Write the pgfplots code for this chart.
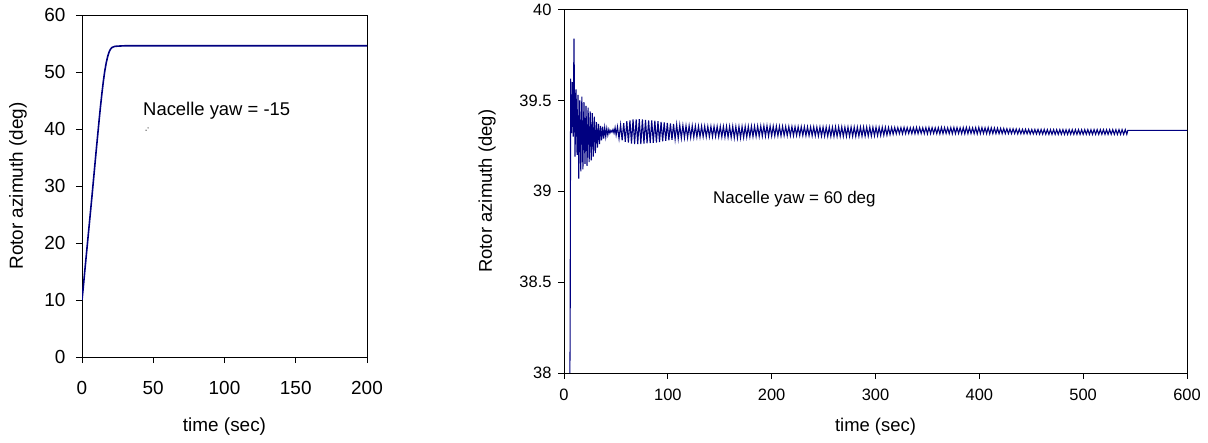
\documentclass[border=0pt]{standalone}
\usepackage{fontspec}
\setmainfont{Liberation Sans}
\usepackage{pgfplots}
\pgfplotsset{compat=1.18}
\definecolor{navy}{RGB}{0,0,128}
\begin{document}
\begin{tikzpicture}
\path[use as bounding box] (0,0) rectangle (1208bp,443bp);
\begin{axis}[
  at={(82bp,86bp)}, anchor=south west, scale only axis,
  width=285bp, height=342bp,
  xmin=0, xmax=200, ymin=0, ymax=60,
  xtick={0,50,...,200}, ytick={0,10,...,60},
  tick pos=left, tick align=outside, major tick length=6bp,
  tick style={black, line width=0.8pt},
  axis line style={line width=1pt},
  /pgf/number format/assume math mode=true,
  ticklabel style={font=\fontsize{19}{19}\selectfont},
  xticklabel style={yshift=-15bp},
  yticklabel style={xshift=-7bp},
  xlabel={time (sec)}, ylabel={Rotor azimuth (deg)},
  label style={font=\fontsize{19}{19}\selectfont},
  xlabel style={at={(rel axis cs:0.5,-0.2047)}, anchor=center},
  ylabel style={at={(rel axis cs:-0.2246,0.5)}, anchor=center},
]
\addplot[navy, line width=1.6pt] coordinates {
(0,10)(1,12.5)(2,15.2)(3,17.8)(4,20.4)(5,23)(6,25.6)(7,28.2)(8,30.9)(9,33.6)(10,36.3)(11,38.9)(12,41.5)(13,44)(14,46.3)(15,48.4)(16,50.2)(17,51.6)(18,52.7)(19,53.5)(20,54)(21,54.3)(23,54.5)(26,54.55)(30,54.6)(200,54.6)
};
\end{axis}
\node[anchor=base west, inner sep=0pt, font=\fontsize{18.5}{18.5}\selectfont] at (143bp,327bp) {Nacelle yaw = -15};
\node[anchor=center, inner sep=0pt, font=\fontsize{7}{7}\selectfont] at (147bp,313bp) {-'};
\begin{axis}[
  at={(564bp,70bp)}, anchor=south west, scale only axis,
  width=623bp, height=363.5bp,
  xmin=0, xmax=600, ymin=38, ymax=40,
  xtick={0,100,...,600}, ytick={38,38.5,39,39.5,40},
  tick pos=left, tick align=outside, major tick length=6bp,
  tick style={black, line width=0.8pt},
  axis line style={line width=1pt},
  /pgf/number format/assume math mode=true,
  ticklabel style={font=\fontsize{16.5}{16.5}\selectfont},
  xticklabel style={yshift=-7bp},
  yticklabel style={xshift=-3bp},
  xlabel={time (sec)}, ylabel={Rotor azimuth (deg)},
  label style={font=\fontsize{18.5}{18.5}\selectfont},
  xlabel style={at={(rel axis cs:0.5,-0.1486)}, anchor=center},
  ylabel style={at={(rel axis cs:-0.1236,0.5)}, anchor=center},
]
\addplot[navy, line width=1.1pt] coordinates {
(4.8,37.4)(5.6,38.0)(5.9,38.16)(6.4,39.62)(7.3,39.32)(8.2,39.60)(8.9,39.30)(9.6,39.84)(10.6,39.19)(11.6,39.56)(12.6,39.20)(13.5,39.53)(14.2,39.07)(15.2,39.50)(16.2,39.11)(17.2,39.52)(18.2,39.12)(19.2,39.49)(20.2,39.15)(21.2,39.47)(22.2,39.14)(23.2,39.46)(24.2,39.16)(25.2,39.44)(26.2,39.17)(27.2,39.43)(28.2,39.19)(29.2,39.41)(30.2,39.21)(31.2,39.38)(32.2,39.24)(33.2,39.37)(34.2,39.26)(35.2,39.36)(36.2,39.28)(37.2,39.355)(38.2,39.29)(39.2,39.35)(40.2,39.30)(41.2,39.345)(42.2,39.31)(43.2,39.34)(44.2,39.32)(45.2,39.335)(46.2,39.325)(47.2,39.34)(48.2,39.32)(49.2,39.35)(50.2,39.31)
(51.5,39.355)(53,39.29)(54.5,39.365)(56,39.28)(57.5,39.375)(59,39.272)(60.5,39.385)(62,39.268)(63.5,39.39)(65,39.262)(66.5,39.395)(68,39.26)(69.5,39.395)(71,39.26)(72.5,39.396)(74,39.26)(75.5,39.395)(77,39.262)(78.5,39.393)(80,39.264)(81.5,39.39)(83,39.265)(84.5,39.39)(86,39.266)(87.5,39.388)(89,39.268)(90.5,39.385)(92,39.27)(93.5,39.382)(95,39.274)(96.5,39.379)(98,39.277)(99.5,39.376)(101,39.28)(102.5,39.373)(104,39.283)(105.5,39.37)(107,39.286)(108.5,39.367)(110,39.289)(111.5,39.364)(113,39.292)(114.5,39.362)(116,39.294)(117.5,39.36)(119,39.295)(120.5,39.36)(122,39.296)(123.5,39.36)(125,39.297)(126.5,39.359)(128,39.298)(129.5,39.358)(131,39.299)(132.5,39.358)(134,39.30)(135.5,39.358)(137,39.30)(138.5,39.357)(140,39.30)(141.5,39.357)(143,39.30)(144.5,39.357)(146,39.301)(147.5,39.357)(149,39.30)(150.5,39.357)(152,39.299)(153.5,39.357)(155,39.298)(156.5,39.357)(158,39.297)(159.5,39.357)(161,39.296)(162.5,39.357)(164,39.294)(165.5,39.356)(167,39.293)(168.5,39.356)(170,39.294)(171.5,39.356)(173,39.296)(174.5,39.357)(176,39.298)(177.5,39.357)(179,39.30)(180.5,39.358)(182,39.301)(183.5,39.358)(185,39.302)(186.5,39.359)(188,39.302)(189.5,39.359)(191,39.303)(192.5,39.36)(194,39.303)(195.5,39.36)(197,39.303)(198.5,39.359)(200,39.304)
(201.5,39.358)(203,39.304)(204.5,39.358)(206,39.305)(207.5,39.357)(209,39.305)(210.5,39.357)(212,39.306)(213.5,39.356)(215,39.306)(216.5,39.356)(218,39.306)(219.5,39.356)(221,39.306)(222.5,39.355)(224,39.307)(225.5,39.355)(227,39.307)(228.5,39.355)(230,39.307)(231.5,39.355)(233,39.306)(234.5,39.354)(236,39.306)(237.5,39.354)(239,39.305)(240.5,39.354)(242,39.305)(243.5,39.353)(245,39.304)(246.5,39.353)(248,39.304)(249.5,39.353)(251,39.303)(252.5,39.353)(254,39.303)(255.5,39.353)(257,39.302)(258.5,39.353)(260,39.302)(261.5,39.354)(263,39.302)(264.5,39.354)(266,39.302)(267.5,39.354)(269,39.302)(270.5,39.353)(272,39.302)(273.5,39.353)(275,39.302)(276.5,39.353)(278,39.302)(279.5,39.353)(281,39.302)(282.5,39.353)(284,39.303)(285.5,39.353)(287,39.303)(288.5,39.353)(290,39.303)(291.5,39.353)(293,39.304)(294.5,39.353)(296,39.304)(297.5,39.352)(299,39.305)
(300.5,39.352)(302,39.306)(303.5,39.352)(305,39.307)(306.5,39.352)(308,39.308)(309.5,39.352)(311,39.309)(312.5,39.351)(314,39.312)(315.5,39.351)(317,39.314)(318.5,39.351)(320,39.316)(321.5,39.350)(323,39.317)(324.5,39.35)(326,39.316)(327.5,39.351)(329,39.317)(330.5,39.35)(332,39.318)(333.5,39.349)(335,39.317)(336.5,39.35)(338,39.316)(339.5,39.351)(341,39.317)(342.5,39.35)(344,39.318)(345.5,39.349)(347,39.317)(348.5,39.35)(350,39.316)(351.5,39.351)(353,39.317)(354.5,39.35)(356,39.318)(357.5,39.349)(359,39.317)(360.5,39.35)(362,39.316)(363.5,39.351)(365,39.317)(366.5,39.35)(368,39.318)(369.5,39.349)(371,39.317)(372.5,39.35)(374,39.316)(375.5,39.351)(377,39.317)(378.5,39.35)(380,39.318)(381.5,39.349)(383,39.317)(384.5,39.35)(386,39.316)(387.5,39.351)(389,39.317)(390.5,39.35)(392,39.318)(393.5,39.349)(395,39.317)(396.5,39.35)(398,39.316)(399.5,39.351)
(401,39.317)(402.5,39.35)(404,39.318)(405.5,39.349)(407,39.317)(408.5,39.35)(410,39.316)(411.5,39.349)(413,39.317)(414.5,39.348)(416,39.317)(417.5,39.347)(419,39.317)(420.5,39.346)(422,39.317)(423.5,39.345)(425,39.317)(426.5,39.344)(428,39.317)(429.5,39.343)(431,39.317)(432.5,39.343)(434,39.317)(435.5,39.342)(437,39.316)(438.5,39.342)(440,39.316)(441.5,39.341)(443,39.316)(444.5,39.341)(446,39.316)(447.5,39.341)(449,39.315)(450.5,39.34)(452,39.315)(453.5,39.34)(455,39.315)(456.5,39.34)(458,39.314)(459.5,39.34)(461,39.314)(462.5,39.34)(464,39.314)(465.5,39.339)(467,39.313)(468.5,39.339)(470,39.313)(471.5,39.339)(473,39.313)(474.5,39.339)(476,39.313)(477.5,39.339)(479,39.313)(480.5,39.339)(482,39.313)(483.5,39.339)(485,39.313)(486.5,39.339)(488,39.313)(489.5,39.339)(491,39.313)(492.5,39.339)(494,39.313)(495.5,39.339)(497,39.313)(498.5,39.339)(500,39.313)
(501.5,39.339)(503,39.313)(504.5,39.339)(506,39.313)(507.5,39.339)(509,39.313)(510.5,39.339)(512,39.313)(513.5,39.339)(515,39.313)(516.5,39.339)(518,39.313)(519.5,39.339)(521,39.313)(522.5,39.339)(524,39.313)(525.5,39.339)(527,39.313)(528.5,39.339)(530,39.313)(531.5,39.339)(533,39.313)(534.5,39.339)(536,39.313)(537.5,39.339)(539,39.313)(540.5,39.339)(542,39.313)(543,39.335)(600,39.335)
};
\end{axis}
\node[anchor=base west, inner sep=0pt, font=\fontsize{17}{17}\selectfont] at (713bp,239bp) {Nacelle yaw = 60 deg};
\end{tikzpicture}
\end{document}
